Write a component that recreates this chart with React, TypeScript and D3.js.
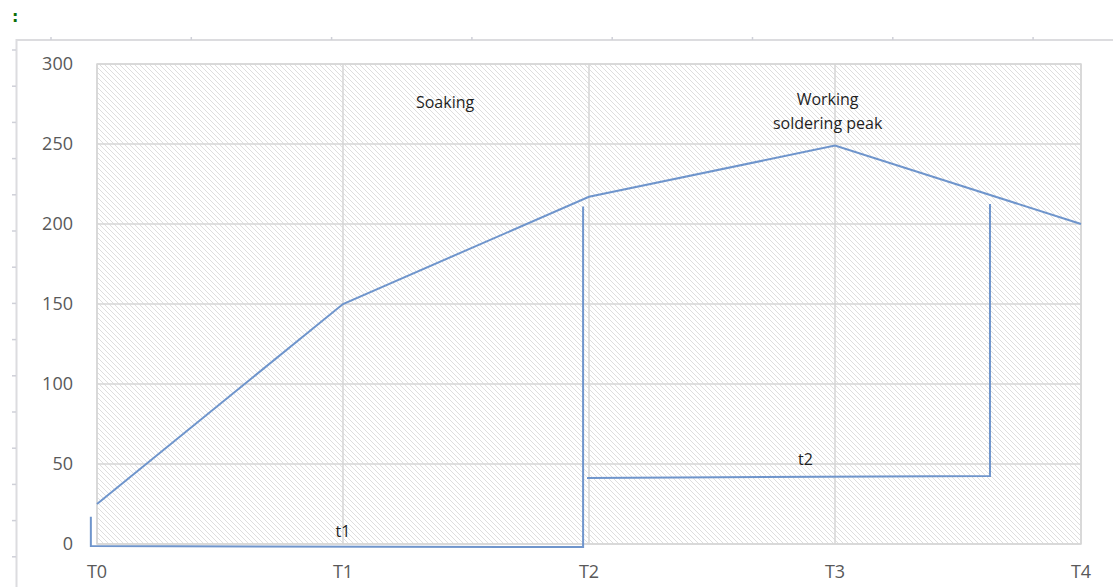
import React from "react";
import * as d3 from "d3";

const categories = ["T0", "T1", "T2", "T3", "T4"];
const temperature = [25, 150, 217, 249, 200];
const yTicks = [0, 50, 100, 150, 200, 250, 300];

// annotation brackets in data units (x = category index, y = value)
const bracketT1: [number, number][] = [[-0.025, 17], [-0.025, -1.3], [1.976, -1.9], [1.976, 211]];
const bracketT2: [number, number][] = [[1.992, 41.3], [3.63, 42.5], [3.63, 212.5]];
const notes = [
  { text: ["t1"], x: 1.0, y: 8 },
  { text: ["t2"], x: 2.88, y: 53 },
  { text: ["Soaking"], x: 1.415, y: 276 },
  { text: ["Working", "soldering peak"], x: 2.97, y: 278 },
];

const W = 1113, H = 587;
const plot = { left: 97, right: 1081, top: 64, bottom: 544 };

export default function App() {
  const x = d3.scalePoint<string>().domain(categories).range([plot.left, plot.right]);
  const xi = d3.scaleLinear().domain([0, categories.length - 1]).range([plot.left, plot.right]);
  const y = d3.scaleLinear().domain([0, 300]).range([plot.bottom, plot.top]);
  const line = d3.line<number>().x((_, i) => x(categories[i])!).y((d) => y(d));
  const bline = d3.line<[number, number]>().x((d) => xi(d[0])).y((d) => y(d[1]));
  const blue = "#6f95cc";
  const topTicks = d3.range(51, W, 140.3);
  const leftTicks = d3.range(50, H, 36.2);
  return (
    <div style={{ position: "fixed", left: 0, top: 0, width: W, height: H, background: "#fff" }}>
      <svg width={W} height={H} style={{ display: "block" }}>
        <defs>
          <pattern id="hatch" patternUnits="userSpaceOnUse" width={5} height={5}>
            <rect width={5} height={5} fill="#fff" />
            <path d="M-1,-1 L6,6 M-1,4 L1,6 M4,-1 L6,1" stroke="#dadada" strokeWidth={0.9} />
          </pattern>
        </defs>
        <text x={12} y={22} fill="#0a6e0a" fontFamily="DejaVu Sans" fontWeight="bold" fontSize={16}>:</text>
        {/* chart frame */}
        <path d={`M16.5,${H} V40 H${W}`} fill="none" stroke="#dcdcdf" strokeWidth={2} />
        {topTicks.map((t) => (
          <line key={"tt" + t} x1={t} x2={t} y1={37} y2={40} stroke="#cfd0d8" strokeWidth={1.5} />
        ))}
        {leftTicks.map((t) => (
          <line key={"lt" + t} x1={12} x2={16} y1={t} y2={t} stroke="#cfd0d8" strokeWidth={1.5} />
        ))}
        {/* plot area */}
        <rect x={plot.left} y={plot.top} width={plot.right - plot.left} height={plot.bottom - plot.top}
          fill="url(#hatch)" stroke="#d9d9d9" strokeWidth={1.5} />
        {yTicks.map((t) => (
          <line key={"gy" + t} x1={plot.left} x2={plot.right} y1={y(t)} y2={y(t)} stroke="#d6d6d6" strokeWidth={1.5} />
        ))}
        {categories.map((c) => (
          <line key={"gx" + c} x1={x(c)} x2={x(c)} y1={plot.top} y2={plot.bottom} stroke="#d6d6d6" strokeWidth={1.5} />
        ))}
        {yTicks.map((t) => (
          <text key={"ly" + t} x={73} y={y(t)} dy="0.35em" textAnchor="end" fill="#595959"
            fontFamily="Open Sans" fontSize={18}>{t}</text>
        ))}
        {categories.map((c) => (
          <text key={"lx" + c} x={x(c)} y={578} textAnchor="middle" fill="#595959"
            fontFamily="Open Sans" fontSize={18}>{c}</text>
        ))}
        <path d={line(temperature)!} fill="none" stroke={blue} strokeWidth={2} />
        <path d={bline(bracketT1)!} fill="none" stroke={blue} strokeWidth={2} />
        <path d={bline(bracketT2)!} fill="none" stroke={blue} strokeWidth={2} />
        {notes.map((n, i) => (
          <text key={"n" + i} x={xi(n.x)} y={y(n.y)} textAnchor="middle" fill="#1f1f1f"
            fontFamily="Open Sans" fontSize={16}>
            {n.text.map((s, j) => (
              <tspan key={j} x={xi(n.x)} dy={j === 0 ? "0.35em" : "1.5em"}>{s}</tspan>
            ))}
          </text>
        ))}
      </svg>
    </div>
  );
}
